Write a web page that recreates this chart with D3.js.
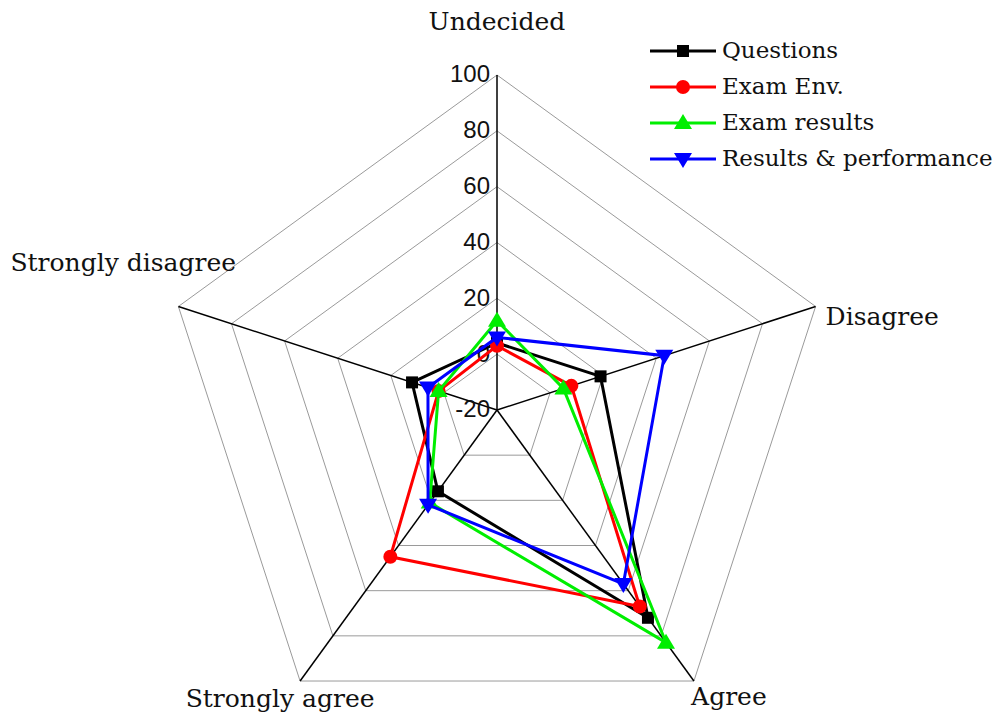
<!DOCTYPE html>
<html>
<head>
<meta charset="utf-8">
<script src="https://cdn.jsdelivr.net/npm/d3@7"></script>
<style>
  html, body { margin: 0; padding: 0; background: #fff; }
  svg { display: block; }
</style>
</head>
<body>
<svg id="chart" width="995" height="724"></svg>
<script>
const categories = ["Undecided", "Disagree", "Agree", "Strongly agree", "Strongly disagree"];
const tickValues = [-20, 0, 20, 40, 60, 80, 100];
const seriesNames = ["Questions", "Exam Env.", "Exam results", "Results & performance"];
const questions = [4, 19, 72, 16, 12];
const examEnv = [3, 8, 67, 45, 2];
const examResults = [12, 5, 83, 21, 2];
const resultsPerformance = [6, 43, 57, 22, 6];

const seriesValues = [questions, examEnv, examResults, resultsPerformance];
const colors = ["#000000", "#ff0000", "#00ee00", "#0000ff"];
const markers = ["square", "circle", "triangleUp", "triangleDown"];

const svg = d3.select("#chart");
const cx = 497, cy = 410, R = 335;
const r = d3.scaleLinear().domain([-20, 100]).range([0, R]);
const angle = d3.scaleLinear().domain([0, categories.length]).range([-Math.PI / 2, 1.5 * Math.PI]);
const pt = (i, v) => [cx + r(v) * Math.cos(angle(i)), cy + r(v) * Math.sin(angle(i))];

// grid rings
const ringLine = d3.line();
tickValues.filter(t => t > -20).forEach(t => {
  const pts = categories.map((c, i) => pt(i, t));
  svg.append("path")
    .attr("d", ringLine(pts) + "Z")
    .attr("fill", "none")
    .attr("stroke", "#9a9a9a")
    .attr("stroke-width", 1);
});

// spokes
categories.forEach((c, i) => {
  const [x, y] = pt(i, 100);
  svg.append("line")
    .attr("x1", cx).attr("y1", cy).attr("x2", x).attr("y2", y)
    .attr("stroke", "#000").attr("stroke-width", 1.5);
});

// tick labels
tickValues.forEach(t => {
  const [x, y] = pt(0, t);
  svg.append("text")
    .attr("x", x - 7).attr("y", y + 1)
    .attr("text-anchor", "end")
    .attr("dominant-baseline", "middle")
    .attr("font-family", "Liberation Sans, Arial, sans-serif")
    .attr("font-size", 24)
    .attr("fill", "#111")
    .text(t);
});

// category labels
const labelPos = [
  { dx: 0, dy: -52, anchor: "middle" },
  { dx: 10, dy: 12, anchor: "start" },
  { dx: 35, dy: 17, anchor: "middle" },
  { dx: -20, dy: 19, anchor: "middle" },
  { dx: -168, dy: -42, anchor: "start" }
];
categories.forEach((c, i) => {
  const [x, y] = pt(i, 100);
  svg.append("text")
    .attr("x", x + labelPos[i].dx).attr("y", y + labelPos[i].dy)
    .attr("text-anchor", labelPos[i].anchor)
    .attr("dominant-baseline", "middle")
    .attr("font-family", "DejaVu Serif, serif")
    .attr("font-size", 25)
    .attr("fill", "#111")
    .text(c);
});

function drawMarker(g, type, x, y, color) {
  if (type === "square") {
    g.append("rect").attr("x", x - 6).attr("y", y - 6).attr("width", 12).attr("height", 12).attr("fill", color);
  } else if (type === "circle") {
    g.append("circle").attr("cx", x).attr("cy", y).attr("r", 7).attr("fill", color);
  } else if (type === "triangleUp") {
    g.append("path").attr("d", `M${x},${y - 9}L${x + 9},${y + 6}L${x - 9},${y + 6}Z`).attr("fill", color);
  } else {
    g.append("path").attr("d", `M${x},${y + 9}L${x + 9},${y - 6}L${x - 9},${y - 6}Z`).attr("fill", color);
  }
}

// series
seriesValues.forEach((vals, s) => {
  const g = svg.append("g");
  const pts = vals.map((v, i) => pt(i, v));
  g.append("path")
    .attr("d", d3.line()(pts) + "Z")
    .attr("fill", "none")
    .attr("stroke", colors[s])
    .attr("stroke-width", 3)
    .attr("stroke-linejoin", "miter");
  pts.forEach(([x, y]) => drawMarker(g, markers[s], x, y, colors[s]));
});

// legend
const legend = svg.append("g");
seriesNames.forEach((name, s) => {
  const y = 51 + s * 36;
  legend.append("line")
    .attr("x1", 650).attr("x2", 716).attr("y1", y).attr("y2", y)
    .attr("stroke", colors[s]).attr("stroke-width", 3);
  drawMarker(legend, markers[s], 683, y, colors[s]);
  legend.append("text")
    .attr("x", 722).attr("y", y + 1)
    .attr("dominant-baseline", "middle")
    .attr("font-family", "DejaVu Serif, serif")
    .attr("font-size", 23)
    .attr("fill", "#111")
    .text(name);
});
</script>
</body>
</html>
